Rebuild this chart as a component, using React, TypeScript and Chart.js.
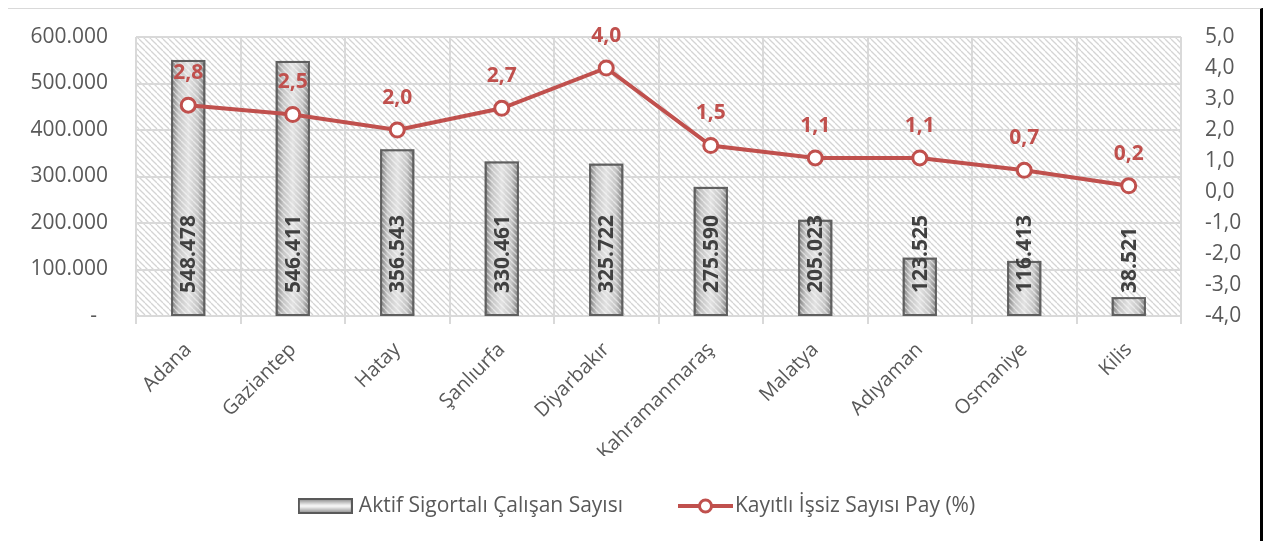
import React, { useEffect, useRef } from 'react';
import { Chart, registerables } from 'chart.js';

Chart.register(...registerables);

const categories = ['Adana', 'Gaziantep', 'Hatay', 'Şanlıurfa', 'Diyarbakır', 'Kahramanmaraş', 'Malatya', 'Adıyaman', 'Osmaniye', 'Kilis'];
const insuredWorkers = [548478, 546411, 356543, 330461, 325722, 275590, 205023, 123525, 116413, 38521];
const unemployedShare = [2.8, 2.5, 2.0, 2.7, 4.0, 1.5, 1.1, 1.1, 0.7, 0.2];
const seriesNames = ['Aktif Sigortalı Çalışan Sayısı', 'Kayıtlı İşsiz Sayısı Pay (%)'];
const leftAxisRange = [0, 600000, 100000];
const rightAxisRange = [-4, 5, 1];

const FONT = "'Open Sans', 'Noto Sans', sans-serif";
const RED = '#c0504d';
const TEXT = '#595959';

function fmtThousands(v: number): string {
  if (v === 0) return '-  ';
  return Math.round(v).toString().replace(/\B(?=(\d{3})+(?!\d))/g, '.');
}
function fmtDec(v: number): string {
  return v.toFixed(1).replace('.', ',');
}

function makeHatch(color: string, lw: number): CanvasPattern | null {
  const c = document.createElement('canvas');
  c.width = 6;
  c.height = 6;
  const g = c.getContext('2d')!;
  g.strokeStyle = color;
  g.lineWidth = lw;
  for (const o of [-6, 0, 6]) {
    g.beginPath();
    g.moveTo(o, 0);
    g.lineTo(o + 6, 6);
    g.stroke();
  }
  const tmp = document.createElement('canvas').getContext('2d')!;
  return tmp.createPattern(c, 'repeat');
}

function makeBarSwatch(): HTMLCanvasElement {
  const c = document.createElement('canvas');
  c.width = 55;
  c.height = 16;
  const g = c.getContext('2d')!;
  const gr = g.createLinearGradient(0, 0, 0, 16);
  gr.addColorStop(0, '#7a7a7a');
  gr.addColorStop(0.45, '#f2f2f2');
  gr.addColorStop(0.55, '#f2f2f2');
  gr.addColorStop(1, '#7a7a7a');
  g.fillStyle = gr;
  g.fillRect(1, 1, 53, 14);
  g.strokeStyle = '#595959';
  g.lineWidth = 2;
  g.strokeRect(1, 1, 53, 14);
  return c;
}

function makeLineSwatch(): HTMLCanvasElement {
  const c = document.createElement('canvas');
  c.width = 55;
  c.height = 18;
  const g = c.getContext('2d')!;
  g.strokeStyle = RED;
  g.lineWidth = 4;
  g.beginPath();
  g.moveTo(0, 9);
  g.lineTo(55, 9);
  g.stroke();
  g.beginPath();
  g.arc(27.5, 9, 6, 0, Math.PI * 2);
  g.fillStyle = '#fff';
  g.fill();
  g.lineWidth = 3;
  g.stroke();
  return c;
}

export default function App() {
  const ref = useRef<HTMLCanvasElement | null>(null);

  useEffect(() => {
    const canvas = ref.current;
    if (!canvas) return;
    const bgHatch = makeHatch('#d4d4d4', 1.3);
    const barHatch = makeHatch('rgba(255,255,255,0.55)', 1.3);
    const barSwatch = makeBarSwatch();
    const lineSwatch = makeLineSwatch();

    const decor = {
      id: 'decor',
      beforeDraw(chart: any) {
        const { ctx, chartArea: a } = chart;
        ctx.save();
        ctx.fillStyle = '#ffffff';
        ctx.fillRect(0, 0, chart.width, chart.height);
        if (bgHatch) {
          ctx.fillStyle = bgHatch;
          ctx.fillRect(a.left, a.top, a.right - a.left, a.bottom - a.top);
        }
        ctx.restore();
      },
      afterDatasetDraw(chart: any, args: any) {
        if (args.index !== 0) return;
        const { ctx } = chart;
        const meta = chart.getDatasetMeta(0);
        ctx.save();
        meta.data.forEach((el: any) => {
          const p = el.getProps(['x', 'y', 'base', 'width'], true);
          const l = p.x - p.width / 2 + 1;
          const r = p.x + p.width / 2 - 1;
          const t = p.y + 1;
          const b = p.base - 1;
          const gr = ctx.createLinearGradient(l, 0, r, 0);
          gr.addColorStop(0, '#8c8c8c');
          gr.addColorStop(0.18, '#c4c4c4');
          gr.addColorStop(0.5, '#e2e2e2');
          gr.addColorStop(0.82, '#c4c4c4');
          gr.addColorStop(1, '#8c8c8c');
          ctx.fillStyle = gr;
          ctx.fillRect(l, t, r - l, b - t);
          if (barHatch) {
            ctx.fillStyle = barHatch;
            ctx.fillRect(l, t, r - l, b - t);
          }
          ctx.strokeStyle = '#5f5f5f';
          ctx.lineWidth = 2;
          ctx.strokeRect(p.x - p.width / 2, p.y, p.width, p.base - p.y);
        });
        ctx.restore();
      },
      afterDatasetsDraw(chart: any) {
        const { ctx } = chart;
        ctx.save();
        const m0 = chart.getDatasetMeta(0);
        ctx.font = `bold 21px ${FONT}`;
        ctx.fillStyle = '#404040';
        ctx.textAlign = 'left';
        ctx.textBaseline = 'middle';
        m0.data.forEach((el: any, i: number) => {
          const p = el.getProps(['x', 'base'], true);
          ctx.save();
          ctx.translate(p.x + 1, p.base - 22);
          ctx.rotate(-Math.PI / 2);
          ctx.fillText(fmtThousands(insuredWorkers[i]), 0, 0);
          ctx.restore();
        });
        const m1 = chart.getDatasetMeta(1);
        ctx.fillStyle = RED;
        ctx.textAlign = 'center';
        m1.data.forEach((el: any, i: number) => {
          const p = el.getProps(['x', 'y'], true);
          ctx.fillText(fmtDec(unemployedShare[i]), p.x, p.y - 32);
        });
        ctx.restore();
      },
      afterDraw(chart: any) {
        // legend
        const { ctx } = chart;
        ctx.save();
        ctx.font = `21px ${FONT}`;
        ctx.fillStyle = TEXT;
        ctx.textAlign = 'left';
        ctx.textBaseline = 'middle';
        const w1 = ctx.measureText(seriesNames[0]).width;
        const w2 = ctx.measureText(seriesNames[1]).width;
        const sw = 55;
        const total = sw + 6 + w1 + 55 + sw + 2 + w2;
        let x = (chart.width - total) / 2 + 3;
        const cy = chart.height - 35;
        ctx.drawImage(barSwatch, x, cy - barSwatch.height / 2);
        x += sw + 6;
        ctx.fillText(seriesNames[0], x, cy);
        x += w1 + 55;
        ctx.drawImage(lineSwatch, x, cy - lineSwatch.height / 2);
        x += sw + 2;
        ctx.fillText(seriesNames[1], x, cy);
        ctx.restore();
      },
    };

    const chart = new Chart(canvas, {
      type: 'bar',
      data: {
        labels: categories,
        datasets: [
          {
            type: 'bar',
            label: seriesNames[0],
            data: insuredWorkers,
            yAxisID: 'y',
            backgroundColor: '#c9c9c9',
            borderColor: '#5f5f5f',
            borderWidth: 2,
            barPercentage: 0.31,
            categoryPercentage: 1,
            order: 2,
          },
          {
            type: 'line',
            label: seriesNames[1],
            data: unemployedShare,
            yAxisID: 'y1',
            borderColor: RED,
            borderWidth: 4,
            pointRadius: 7,
            pointBorderWidth: 3,
            pointBackgroundColor: '#ffffff',
            pointBorderColor: RED,
            tension: 0,
            order: 1,
          },
        ] as any,
      },
      options: {
        responsive: false,
        animation: false,
        devicePixelRatio: 1,
        layout: { padding: { top: 28, bottom: 85, left: 0, right: 0 } },
        plugins: {
          tooltip: { enabled: false },
          legend: { display: false },
        },
        scales: {
          x: {
            offset: true,
            grid: { display: true, offset: true, color: '#d9d9d9', lineWidth: 2, drawTicks: true, tickLength: 8, tickColor: '#d9d9d9' },
            border: { display: true, color: '#d9d9d9', width: 2 },
            ticks: {
              color: TEXT,
              font: { family: FONT, size: 20 },
              minRotation: 45,
              maxRotation: 45,
              autoSkip: false,
              padding: 14,
            },
            afterFit: (s: any) => { s.height = 140; },
          },
          y: {
            position: 'left',
            min: leftAxisRange[0],
            max: leftAxisRange[1],
            grid: { color: '#d9d9d9', lineWidth: 2, drawTicks: true, tickLength: 28, tickColor: 'rgba(0,0,0,0)' },
            border: { display: false },
            ticks: {
              stepSize: leftAxisRange[2],
              color: TEXT,
              font: { family: FONT, size: 21 },
              padding: 0,
              callback: (v: any) => fmtThousands(Number(v)),
            },
            afterFit: (s: any) => { s.width = 129; },
          },
          y1: {
            position: 'right',
            min: rightAxisRange[0],
            max: rightAxisRange[1],
            grid: { display: false, drawTicks: true, tickLength: 24 },
            border: { display: false },
            ticks: {
              stepSize: rightAxisRange[2],
              color: TEXT,
              font: { family: FONT, size: 21 },
              padding: 0,
              callback: (v: any) => fmtDec(Number(v)),
            },
            afterFit: (s: any) => { s.width = 79; },
          },
        },
      } as any,
      plugins: [decor],
    });
    return () => chart.destroy();
  }, []);

  return (
    <div
      style={{
        position: 'relative',
        width: 1253,
        height: 532,
        margin: '-1px 0 0 -2px',
        borderTop: '2px solid #d9d9d9',
        borderLeft: '1px solid #d9d9d9',
        borderRight: '4px solid #000',
        background: '#fff',
      }}
    >
      <canvas ref={ref} width={1253} height={532} style={{ display: 'block', width: 1253, height: 532 }} />
    </div>
  );
}
